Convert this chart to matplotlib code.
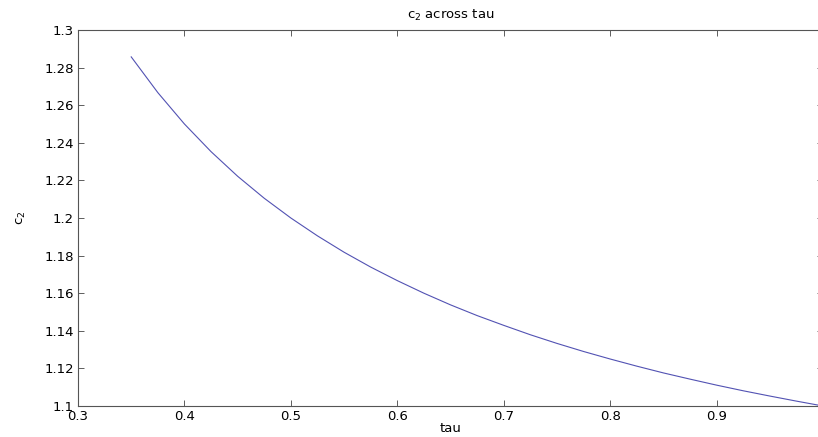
import numpy as np
import matplotlib.pyplot as plt

tau = [0.35, 0.375, 0.40, 0.425, 0.45, 0.475, 0.50, 0.525, 0.55, 0.575,
       0.60, 0.625, 0.65, 0.675, 0.70, 0.725, 0.75, 0.775, 0.80, 0.825,
       0.85, 0.875, 0.90, 0.925, 0.95, 0.975, 1.00]
c2 = [1.2857, 1.2667, 1.2500, 1.2353, 1.2222, 1.2105, 1.2000, 1.1905,
      1.1818, 1.1739, 1.1667, 1.1600, 1.1538, 1.1481, 1.1429, 1.1379,
      1.1333, 1.1290, 1.1250, 1.1212, 1.1176, 1.1143, 1.1111, 1.1081,
      1.1053, 1.1026, 1.1000]

xticks = [0.3, 0.4, 0.5, 0.6, 0.7, 0.8, 0.9]
yticks = [1.1, 1.12, 1.14, 1.16, 1.18, 1.2, 1.22, 1.24, 1.26, 1.28, 1.3]

plt.rcParams['font.family'] = 'DejaVu Sans'
plt.rcParams['font.size'] = 9.5

fig = plt.figure(figsize=(8.18, 4.37), dpi=100)
ax = fig.add_axes([78/818, 1-406/437, (823-78)/818, (406-30)/437])

ax.plot(tau, c2, color=(0.32, 0.32, 0.7), lw=0.8)

ax.set_xlim(0.3, 1.0)
ax.set_ylim(1.1, 1.3)
ax.set_xticks(xticks)
ax.set_yticks(yticks)
ax.set_xticklabels([f'{v:g}' for v in xticks])
ax.set_yticklabels([f'{v:g}' for v in yticks])
ax.tick_params(direction='in', top=True, right=True, length=4, width=0.6,
               color='#444444', labelsize=9.5, pad=3)
ax.tick_params(axis='x', pad=3)
for s in ax.spines.values():
    s.set_color('#555555')
    s.set_linewidth(0.8)

ax.set_title('c$_2$ across tau', fontsize=9.5, pad=8)
ax.set_xlabel('tau', fontsize=9.5, labelpad=-1)
ax.set_ylabel('c$_2$', fontsize=9.5, labelpad=12)

fig.savefig('out.png', dpi=100)
